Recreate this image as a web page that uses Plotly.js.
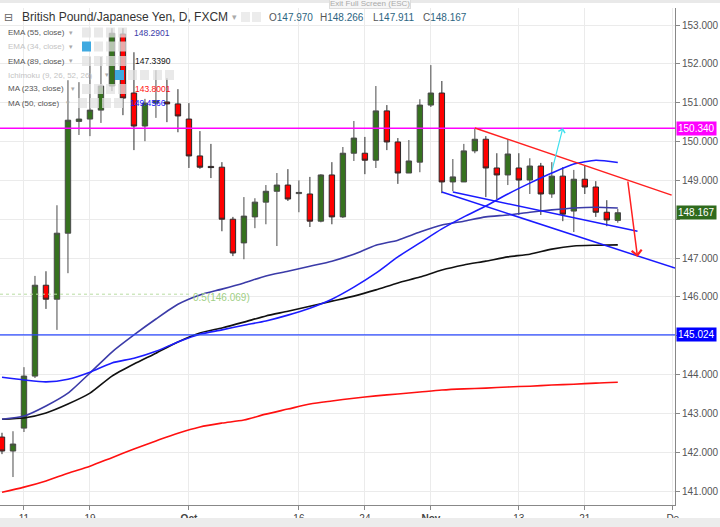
<!DOCTYPE html>
<html><head><meta charset="utf-8">
<script src="https://cdn.plot.ly/plotly-3.0.1.min.js"></script>
<style>html,body{margin:0;padding:0;background:#fff;}#chart{width:720px;height:527px;}</style>
</head><body><div id="chart"></div>
<script>
// ---- candles (daily, GBP/JPY, FXCM) ----
const dates = ['2017-09-07','2017-09-08','2017-09-11','2017-09-12','2017-09-13','2017-09-14','2017-09-15','2017-09-18','2017-09-19','2017-09-20','2017-09-21','2017-09-22','2017-09-25','2017-09-26','2017-09-27','2017-09-28','2017-09-29',
'2017-10-02','2017-10-03','2017-10-04','2017-10-05','2017-10-06','2017-10-09','2017-10-10','2017-10-11','2017-10-12','2017-10-13','2017-10-16','2017-10-17','2017-10-18','2017-10-19','2017-10-20','2017-10-23','2017-10-24','2017-10-25','2017-10-26','2017-10-27','2017-10-30','2017-10-31',
'2017-11-01','2017-11-02','2017-11-03','2017-11-06','2017-11-07','2017-11-08','2017-11-09','2017-11-10','2017-11-13','2017-11-14','2017-11-15','2017-11-16','2017-11-17','2017-11-20','2017-11-21','2017-11-22','2017-11-23','2017-11-24'];
const openP = [142.39,142.03,142.62,143.96,146.30,145.94,147.64,150.52,150.58,150.81,151.43,152.77,151.25,150.40,150.99,151.02,150.97,
150.58,149.63,149.36,149.34,148.00,147.39,148.06,148.44,148.72,148.88,148.66,148.65,147.95,149.14,148.06,149.70,149.70,149.52,150.79,149.99,149.19,149.47,
150.94,151.25,148.96,148.96,149.76,150.06,149.32,149.14,149.32,149.01,149.37,148.65,149.11,148.21,149.03,148.83,148.18,147.970];
const highP = [142.50,142.54,144.19,146.54,146.66,148.36,151.58,151.53,152.18,152.18,152.92,152.92,152.30,151.10,151.84,151.63,151.35,
150.99,150.27,149.94,149.47,148.06,148.57,148.54,148.88,149.19,149.29,149.00,149.09,149.16,149.47,149.86,150.53,150.12,151.43,150.94,150.09,150.04,151.09,
151.97,151.56,149.55,149.94,150.35,150.14,149.70,150.06,149.70,149.57,149.45,149.47,149.34,149.27,149.39,148.98,148.49,148.266];
const lowP = [141.95,141.36,142.52,143.91,145.69,145.15,146.61,150.17,150.14,150.48,151.30,150.68,149.78,150.01,150.61,150.50,150.24,
149.32,149.30,149.06,147.69,147.05,146.97,147.77,147.87,147.31,148.47,148.18,147.80,147.92,147.87,148.03,149.50,149.16,149.32,149.78,148.91,149.19,149.21,
150.89,148.67,148.72,148.96,149.70,148.57,148.52,148.88,148.11,148.65,148.11,148.55,147.95,147.67,148.65,148.06,147.82,147.911];
const closeP = [142.03,142.21,143.96,146.30,145.94,147.64,150.55,150.58,150.81,151.43,152.79,151.12,150.40,150.99,151.05,150.97,150.66,
149.63,149.34,149.33,148.00,147.13,148.08,148.44,148.72,148.88,148.52,148.69,147.95,149.14,148.06,149.70,150.09,149.52,150.79,149.99,149.19,149.50,150.94,
151.25,148.96,149.09,149.76,150.06,149.32,149.14,149.68,149.01,149.37,148.65,149.11,148.13,149.03,148.83,148.18,147.98,148.167];

// ---- moving averages (read every 2nd session) ----
const maDates = ['2017-09-07','2017-09-11','2017-09-13','2017-09-15','2017-09-19','2017-09-21','2017-09-25','2017-09-27','2017-09-29','2017-10-03','2017-10-05','2017-10-09','2017-10-11','2017-10-13','2017-10-17','2017-10-19','2017-10-23','2017-10-25','2017-10-27','2017-10-31','2017-11-02','2017-11-06','2017-11-08','2017-11-10','2017-11-14','2017-11-16','2017-11-20','2017-11-22','2017-11-24'];
const ema55 = [142.85,142.93,143.19,143.52,144.04,144.58,145.02,145.43,145.81,146.05,146.20,146.36,146.54,146.66,146.79,146.92,147.10,147.33,147.46,147.67,147.85,147.95,148.06,148.11,148.18,148.24,148.29,148.31,148.29];
const ema89 = [142.85,142.88,143.01,143.24,143.52,143.96,144.27,144.55,144.84,145.07,145.20,145.35,145.51,145.63,145.76,145.89,146.02,146.18,146.36,146.51,146.69,146.82,146.92,147.03,147.10,147.23,147.31,147.33,147.34];
const ma50 = [143.93,143.86,143.81,143.88,144.06,144.30,144.42,144.60,144.84,145.04,145.15,145.27,145.38,145.53,145.71,145.94,146.25,146.61,147.03,147.39,147.75,148.06,148.34,148.65,148.93,149.19,149.42,149.52,149.46];
const ma233 = [140.97,141.10,141.26,141.46,141.64,141.86,142.08,142.29,142.49,142.65,142.75,142.83,142.98,143.11,143.24,143.32,143.39,143.45,143.50,143.55,143.60,143.63,143.65,143.68,143.70,143.73,143.75,143.78,143.80];

// ---- levels and labels ----
const levelMagenta = 150.340;
const levelBlue = 145.024;
const fibLevel = 146.069;
const lastClose = 148.167;
const xRange = ['2017-09-06 19:40','2017-12-01 04:50'];
const yRange = [140.64, 153.44];
const yTicks = [141,142,143,144,145,146,147,148,149,150,151,152,153];
const yTickHidden = [145,148];   // covered by the price tags
const tickDates = ['2017-09-11','2017-09-19','2017-10-02','2017-10-16','2017-10-24','2017-11-01','2017-11-13','2017-11-21','2017-12-01'];
const tickText = ['11','19','<b>Oct</b>','16','24','<b>Nov</b>','13','21','De'];
const legendLabels = ['EMA (55, close)','EMA (34, close)','EMA (89, close)','Ichimoku (9, 26, 52, 26)','MA (233, close)','MA (50, close)'];
const legendValues = ['148.2901','','147.3390','','143.8001','149.4566'];
const ohlcLetters = ['O','H','L','C'];
const ohlcValues = ['147.970','148.266','147.911','148.167'];

// ---- hand-drawn trend tools ----
const redTrendX = ['2017-11-07','2017-11-30 21:30']; const redTrendY = [150.35, 148.62];
const blueTrendAX = ['2017-11-02','2017-12-01 04:50']; const blueTrendAY = [148.70, 146.74];
const blueTrendBX = ['2017-11-03','2017-11-27 19:00']; const blueTrendBY = [148.70, 147.69];
const redArrowX = ['2017-11-24 21:30','2017-11-27 19:00']; const redArrowY = [149.01, 147.03];
const cyanArrowX = ['2017-11-16','2017-11-17']; const cyanArrowY = [149.24, 150.35];

// pixel helpers for overlay UI (plot area: x 0..675, y 8..505)
const PX = x => x/675;
const PY = y => (505-y)/497;
const FONT = 'Liberation Sans, Arial, sans-serif';

const traces = [
  {type:'scatter', mode:'lines', x:maDates, y:ma233, line:{color:'#ff1010', width:1.6, shape:'spline', smoothing:0.8}, hoverinfo:'skip'},
  {type:'scatter', mode:'lines', x:maDates, y:ema89, line:{color:'#111111', width:1.6, shape:'spline', smoothing:0.6}, hoverinfo:'skip'},
  {type:'scatter', mode:'lines', x:maDates, y:ema55, line:{color:'#3b3ba8', width:1.6, shape:'spline', smoothing:0.6}, hoverinfo:'skip'},
  {type:'scatter', mode:'lines', x:maDates, y:ma50, line:{color:'#1c1cff', width:1.6, shape:'spline', smoothing:0.6}, hoverinfo:'skip'},
  {type:'candlestick', x:dates, open:openP, high:highP, low:lowP, close:closeP,
   increasing:{fillcolor:'#36711f', line:{color:'#4a4a4a', width:1}},
   decreasing:{fillcolor:'#ff0000', line:{color:'#2a2a2a', width:1}},
   whiskerwidth:0, hoverinfo:'skip'}
];

const shapes = [
  {type:'rect', xref:'paper', yref:'paper', x0:0, x1:PX(720), y0:PY(0), y1:PY(3), fillcolor:'#e9e9e9', line:{width:0}},
  {type:'rect', xref:'paper', yref:'paper', x0:0, x1:PX(720), y0:PY(518), y1:PY(527), fillcolor:'#ececec', line:{width:0}},
  {type:'line', xref:'paper', x0:0, x1:1, yref:'y', y0:levelMagenta, y1:levelMagenta, line:{color:'#ff00ff', width:1.5}, layer:'above'},
  {type:'line', xref:'paper', x0:0, x1:1, yref:'y', y0:levelBlue, y1:levelBlue, line:{color:'#2d4bff', width:1.2}, layer:'above'},
  {type:'line', xref:'x', x0:xRange[0], x1:'2017-10-02', yref:'y', y0:fibLevel, y1:fibLevel, line:{color:'#b9dca3', width:1, dash:'dot'}, layer:'above'},
  {type:'line', xref:'x', yref:'y', x0:redTrendX[0], x1:redTrendX[1], y0:redTrendY[0], y1:redTrendY[1], line:{color:'#ff2020', width:1.5}, layer:'above'},
  {type:'line', xref:'x', yref:'y', x0:blueTrendAX[0], x1:blueTrendAX[1], y0:blueTrendAY[0], y1:blueTrendAY[1], line:{color:'#1a1aff', width:1.5}, layer:'above'},
  {type:'line', xref:'x', yref:'y', x0:blueTrendBX[0], x1:blueTrendBX[1], y0:blueTrendBY[0], y1:blueTrendBY[1], line:{color:'#1a1aff', width:1.5}, layer:'above'}
];

const annotations = [];
function txt(x, y, text, size, color, family, extra){
  annotations.push(Object.assign({xref:'paper', yref:'paper', x:PX(x), y:PY(y), xanchor:'left', yanchor:'middle',
    text:text, showarrow:false, font:{family:family||FONT, size:size, color:color}, borderpad:0}, extra||{}));
}
function icon(x, y, color){
  shapes.push({type:'rect', xref:'paper', yref:'paper', x0:PX(x), x1:PX(x+9), y0:PY(y+5), y1:PY(y-5), fillcolor:color||'#ececec', line:{width:0}, layer:'above'});
}

// arrows
annotations.push({xref:'x', yref:'y', axref:'x', ayref:'y', x:redArrowX[1], y:redArrowY[1], ax:redArrowX[0], ay:redArrowY[0],
  showarrow:true, arrowhead:4, arrowsize:1.3, arrowwidth:1.5, arrowcolor:'#ff2020', text:''});
annotations.push({xref:'x', yref:'y', axref:'x', ayref:'y', x:cyanArrowX[1], y:cyanArrowY[1], ax:cyanArrowX[0], ay:cyanArrowY[0],
  showarrow:true, arrowhead:4, arrowsize:1.1, arrowwidth:1.2, arrowcolor:'#3fe0ee', text:''});

// fib label
annotations.push({xref:'x', yref:'y', x:'2017-10-02', y:fibLevel, xanchor:'left', yanchor:'middle', yshift:-3, xshift:2,
  text:'0.5(' + fibLevel.toFixed(3) + ')', showarrow:false, font:{family:FONT, size:10, color:'#9fcf85'}});

// right-axis price tags
[[levelMagenta,'#ff00ff'],[lastClose,'#2f6b1d'],[levelBlue,'#0000ff']].forEach(([v,c])=>{
  annotations.push({xref:'paper', yref:'y', x:1, y:v, xanchor:'left', yanchor:'middle', xshift:1,
    text:v.toFixed(3), showarrow:false, bgcolor:c, borderpad:1, font:{family:FONT, size:10, color:'#ffffff'}});
});

// header
txt(3, 17, '⊟', 11, '#666', 'DejaVu Sans');
txt(21, 17, 'British Pound/Japanese Yen, D, FXCM', 12, '#333');
txt(231, 17, '▾', 9, '#aaa', 'DejaVu Sans');
icon(241, 17); icon(252, 17);
const ohlcX = [268, 319, 372, 422];
ohlcLetters.forEach((l,i)=> txt(ohlcX[i], 17, l + '<span style="color:#2c6582">' + ohlcValues[i] + '</span>', 10, '#555'));
annotations.push({xref:'paper', yref:'paper', x:PX(370), y:PY(4), xanchor:'center', yanchor:'middle', text:'Exit Full Screen (ESC)',
  showarrow:false, font:{family:FONT, size:8, color:'#aaa'}, bgcolor:'#f6f6f6', bordercolor:'#dddddd', borderwidth:1, borderpad:0});

// indicator legend
const rowY = [32.5, 46.5, 61, 75, 89, 103];
const hidden = [false, true, false, true, false, false];
const caretX = [68, 68, 68, 104, 70, 65];
const valColors = ['#3b3ba8','#000','#111111','#000','#ff1010','#1c1cff'];
const valX = [133, 0, 134, 0, 134, 129];
const iconRows = [[82,94,106,118],[82,94,106,118],[82,94,106,118],[115,128,140,153,165],[82,94,106,118],[78,90,102,114]];
legendLabels.forEach((lab,i)=>{
  txt(7, rowY[i], lab, 8, hidden[i] ? '#c4c4c4' : '#555');
  txt(caretX[i], rowY[i], '▾', 7, '#aaa', 'DejaVu Sans');
  iconRows[i].forEach((ix,k)=> icon(ix, rowY[i], (hidden[i] && k===0) ? '#3fa9e0' : 'rgba(225,225,225,0.75)'));
  if (legendValues[i]) txt(valX[i], rowY[i], legendValues[i], 8.5, valColors[i]);
});

const layout = {
  width:720, height:527, margin:{l:0, r:45, t:8, b:22},
  paper_bgcolor:'#ffffff', plot_bgcolor:'#ffffff', showlegend:false,
  font:{family:FONT, size:10, color:'#555'},
  boxgap:0.3,
  xaxis:{type:'date', range:xRange, rangebreaks:[{bounds:['sat','mon']}], rangeslider:{visible:false},
    tickmode:'array', tickvals:tickDates, ticktext:tickText, showgrid:true, gridcolor:'#ebebeb',
    showline:true, linecolor:'#888', ticks:'outside', ticklen:4, tickcolor:'#888', tickfont:{size:10, color:'#444'},
    zeroline:false, fixedrange:true},
  yaxis:{side:'right', range:yRange, tickmode:'array', tickvals:yTicks,
    ticktext:yTicks.map(v => yTickHidden.includes(v) ? '' : v.toFixed(3)), showgrid:true, gridcolor:'#ebebeb',
    showline:true, linecolor:'#888', ticks:'outside', ticklen:4, tickcolor:'#888', tickfont:{size:10, color:'#555'},
    zeroline:false, fixedrange:true},
  shapes:shapes, annotations:annotations
};
Plotly.newPlot('chart', traces, layout, {staticPlot:true, displayModeBar:false});
</script></body></html>
